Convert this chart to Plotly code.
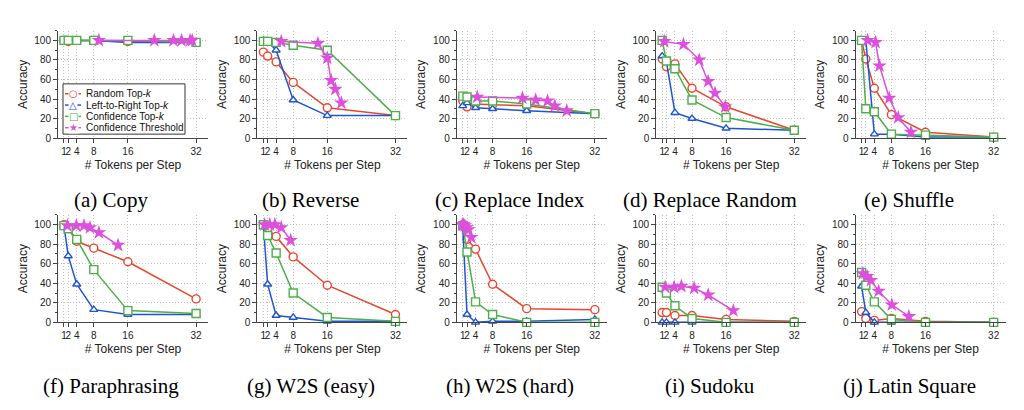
import plotly.graph_objects as go

# x positions for the top-k strategies
TOKENS = [1, 2, 4, 8, 16, 32]
X_TICKS = [1, 2, 4, 8, 16, 32]
Y_TICKS = [0, 20, 40, 60, 80, 100]

SERIES_NAMES = ["Random Top-<i>k</i>", "Left-to-Right Top-<i>k</i>",
                "Confidence Top-<i>k</i>", "Confidence Threshold"]

# (a) Copy
copy_random = [100, 99, 100, 100, 99, 98]
copy_l2r = [100, 100, 100, 100, 98, 98]
copy_conf = [100, 100, 100, 100, 100, 98]
copy_thr_x = [9.2, 22.2, 26.7, 28.6, 30.6, 31.1]
copy_thr_y = [100, 100, 100, 100, 100, 100]

# (b) Reverse
reverse_random = [88, 84, 78, 57, 31, 23]
reverse_l2r = [100, 99, 90, 39, 23, 23]
reverse_conf = [99, 99, 98, 95, 90, 23]
reverse_thr_x = [5.2, 13.8, 16.0, 16.9, 17.9, 19.3]
reverse_thr_y = [99, 97, 82, 59, 50, 36]

# (c) Replace Index
rindex_random = [38, 32, 35, 34, 33, 25]
rindex_l2r = [33, 36, 31, 30, 28, 25]
rindex_conf = [43, 42, 38, 38, 35, 25]
rindex_thr_x = [4.4, 15.0, 18.1, 20.9, 22.6, 25.4]
rindex_thr_y = [42, 41, 39, 38, 33, 28]

# (d) Replace Random
rrandom_random = [81, 73, 76, 51, 32, 8]
rrandom_l2r = [84, 78, 26, 20, 10, 8]
rrandom_conf = [100, 79, 71, 39, 21, 8]
rrandom_thr_x = [1.5, 6.0, 9.7, 11.8, 13.4, 15.8]
rrandom_thr_y = [99, 96, 80, 58, 46, 32]

# (e) Shuffle
shuffle_random = [100, 81, 51, 24, 6, 1]
shuffle_l2r = [100, 100, 4, 4, 1, 1]
shuffle_conf = [100, 30, 27, 4, 3, 1]
shuffle_thr_x = [2.4, 4.3, 5.2, 7.5, 9.6, 12.6]
shuffle_thr_y = [100, 98, 74, 41, 21, 6]

# (f) Paraphrasing
para_random = [100, 96, 83, 76, 62, 24]
para_l2r = [99, 68, 39, 13, 8, 8]
para_conf = [99, 96, 85, 54, 12, 9]
para_thr_x = [1.8, 3.9, 5.7, 7.1, 9.2, 13.7]
para_thr_y = [99, 99, 99, 97, 92, 79]

# (g) W2S (easy)
w2s_easy_random = [100, 95, 88, 67, 38, 8]
w2s_easy_l2r = [100, 39, 7, 5, 1, 1]
w2s_easy_conf = [100, 89, 71, 30, 5, 1]
w2s_easy_thr_x = [1.3, 2.5, 3.7, 5.2, 7.4]
w2s_easy_thr_y = [100, 100, 100, 97, 84]

# (h) W2S (hard)
w2s_hard_random = [100, 85, 75, 39, 14, 13]
w2s_hard_l2r = [97, 8, 0, 1, 1, 3]
w2s_hard_conf = [99, 72, 21, 8, 0, 0]
w2s_hard_thr_x = [0.9, 1.2, 1.5, 1.9, 2.3, 3.0]
w2s_hard_thr_y = [100, 100, 99, 97, 95, 87]

# (i) Sudoku
sudoku_random = [10, 10, 7, 7, 3, 1]
sudoku_l2r = [0, 0, 0, 0, 0, 0]
sudoku_conf = [36, 30, 17, 4, 0, 0]
sudoku_thr_x = [1.7, 3.8, 5.5, 8.5, 11.8, 17.7]
sudoku_thr_y = [36, 36, 37, 35, 28, 12]

# (j) Latin Square
latin_random = [11, 4, 2, 4, 1, 0]
latin_l2r = [37, 10, 0, 0, 0, 0]
latin_conf = [51, 38, 21, 3, 0, 0]
latin_thr_x = [1.3, 2.3, 3.2, 5.0, 8.1, 12.1]
latin_thr_y = [50, 47, 43, 32, 18, 6]

TASKS = [
    ("(a) Copy", copy_random, copy_l2r, copy_conf, copy_thr_x, copy_thr_y),
    ("(b) Reverse", reverse_random, reverse_l2r, reverse_conf, reverse_thr_x, reverse_thr_y),
    ("(c) Replace Index", rindex_random, rindex_l2r, rindex_conf, rindex_thr_x, rindex_thr_y),
    ("(d) Replace Random", rrandom_random, rrandom_l2r, rrandom_conf, rrandom_thr_x, rrandom_thr_y),
    ("(e) Shuffle", shuffle_random, shuffle_l2r, shuffle_conf, shuffle_thr_x, shuffle_thr_y),
    ("(f) Paraphrasing", para_random, para_l2r, para_conf, para_thr_x, para_thr_y),
    ("(g) W2S (easy)", w2s_easy_random, w2s_easy_l2r, w2s_easy_conf, w2s_easy_thr_x, w2s_easy_thr_y),
    ("(h) W2S (hard)", w2s_hard_random, w2s_hard_l2r, w2s_hard_conf, w2s_hard_thr_x, w2s_hard_thr_y),
    ("(i) Sudoku", sudoku_random, sudoku_l2r, sudoku_conf, sudoku_thr_x, sudoku_thr_y),
    ("(j) Latin Square", latin_random, latin_l2r, latin_conf, latin_thr_x, latin_thr_y),
]

RED = "#E8472F"
BLUE = "#1F55D0"
GREEN = "#4DAF4A"
MAGENTA = "#DD4FDD"
AXIS_COL = "#444444"
GRID_COL = "#c2c2c2"

W, H = 1024, 410
PLOT_W, PLOT_H = 150, 109
COL_LEFT = [50 + 199.4 * i for i in range(5)]
ROW_TOP = [23, 210]
CAPTION_Y = [195, 384]

SANS = "Liberation Sans, Arial, sans-serif"
SERIF = "Liberation Serif, Times New Roman, serif"


def px_x(v):
    return v / W


def px_y(v):
    return 1 - v / H


fig = go.Figure()
layout = {}
annotations = []
shapes = []

for k, (caption, rnd, l2r, conf, thr_x, thr_y) in enumerate(TASKS):
    row, col = divmod(k, 5)
    sfx = "" if k == 0 else str(k + 1)
    left = COL_LEFT[col]
    top = ROW_TOP[row]

    layout["xaxis" + sfx] = dict(
        domain=[px_x(left), px_x(left + PLOT_W)],
        anchor="y" + sfx,
        range=[-0.4, 34.8],
        tickmode="array", tickvals=X_TICKS, ticktext=[str(t) for t in X_TICKS],
        tickangle=0,
        showline=True, linecolor=AXIS_COL, linewidth=1,
        ticks="outside", ticklen=4, tickcolor=AXIS_COL,
        showgrid=True, gridcolor=GRID_COL, griddash="1px,2px", gridwidth=1,
        zeroline=False,
        tickfont=dict(family=SANS, size=10, color="#222"),
        title=dict(text="# Tokens per Step", standoff=4,
                   font=dict(family=SANS, size=12, color="#222")),
    )
    layout["yaxis" + sfx] = dict(
        domain=[px_y(top + PLOT_H), px_y(top)],
        anchor="x" + sfx,
        range=[0, 110],
        tickmode="array", tickvals=Y_TICKS,
        showline=True, linecolor=AXIS_COL, linewidth=1,
        ticks="outside", ticklen=4, tickcolor=AXIS_COL,
        minor=dict(tick0=0, dtick=10, ticks="outside", ticklen=2,
                   tickcolor=AXIS_COL, showgrid=False),
        showgrid=True, gridcolor=GRID_COL, griddash="1px,2px", gridwidth=1,
        zeroline=False,
        tickfont=dict(family=SANS, size=10, color="#222"),
        title=dict(text="Accuracy", standoff=4,
                   font=dict(family=SANS, size=12, color="#222")),
    )

    common = dict(xaxis="x" + sfx, yaxis="y" + sfx, mode="lines+markers",
                  cliponaxis=False, showlegend=False)
    fig.add_trace(go.Scatter(
        x=TOKENS, y=rnd, name=SERIES_NAMES[0],
        line=dict(color=RED, width=1.5),
        marker=dict(symbol="circle", size=8, color="white",
                    line=dict(color=RED, width=1.4)),
        **common))
    fig.add_trace(go.Scatter(
        x=TOKENS, y=l2r, name=SERIES_NAMES[1],
        line=dict(color=BLUE, width=1.5),
        marker=dict(symbol="triangle-up", size=7, color="white",
                    line=dict(color=BLUE, width=1.4)),
        **common))
    fig.add_trace(go.Scatter(
        x=TOKENS, y=conf, name=SERIES_NAMES[2],
        line=dict(color=GREEN, width=1.5),
        marker=dict(symbol="square", size=8, color="white",
                    line=dict(color=GREEN, width=1.4)),
        **common))
    fig.add_trace(go.Scatter(
        x=thr_x, y=thr_y, name=SERIES_NAMES[3],
        line=dict(color=MAGENTA, width=1.5),
        marker=dict(symbol="star", size=11, color=MAGENTA,
                    line=dict(width=0)),
        **common))

    annotations.append(dict(
        x=px_x(103 + 199.5 * col), y=px_y(CAPTION_Y[row]),
        xref="paper", yref="paper", xanchor="center", yanchor="middle",
        text=caption, showarrow=False,
        font=dict(family=SERIF, size=21, color="black")))

# legend box drawn inside panel (a)
LEG_BOX = (55, 77, 177, 128)
LEG_ROWS = [87, 98.5, 110, 121.5]
LEG_GLYPHS = ["○", "△", "□", "★"]
LEG_COLORS = [RED, BLUE, GREEN, MAGENTA]

shapes.append(dict(type="rect", xref="paper", yref="paper",
                   x0=px_x(LEG_BOX[0]), x1=px_x(LEG_BOX[2]),
                   y0=px_y(LEG_BOX[3]), y1=px_y(LEG_BOX[1]),
                   line=dict(color="#333333", width=1),
                   fillcolor="white", layer="above"))
for name, glyph, colr, ry in zip(SERIES_NAMES, LEG_GLYPHS, LEG_COLORS, LEG_ROWS):
    shapes.append(dict(type="line", xref="paper", yref="paper",
                       x0=px_x(57), x1=px_x(73), y0=px_y(ry), y1=px_y(ry),
                       line=dict(color=colr, width=1.5), layer="above"))
    annotations.append(dict(
        x=px_x(65), y=px_y(ry), xref="paper", yref="paper",
        xanchor="center", yanchor="middle", text=glyph, showarrow=False,
        bgcolor="white", borderpad=0,
        font=dict(family="DejaVu Sans", size=10, color=colr)))
    annotations.append(dict(
        x=px_x(76), y=px_y(ry), xref="paper", yref="paper",
        xanchor="left", yanchor="middle", text=name, showarrow=False,
        font=dict(family=SANS, size=10, color="#111")))

fig.update_layout(
    width=W, height=H,
    margin=dict(l=0, r=0, t=0, b=0),
    paper_bgcolor="white", plot_bgcolor="white",
    annotations=annotations, shapes=shapes,
    **layout,
)

fig.write_html("out.html")
